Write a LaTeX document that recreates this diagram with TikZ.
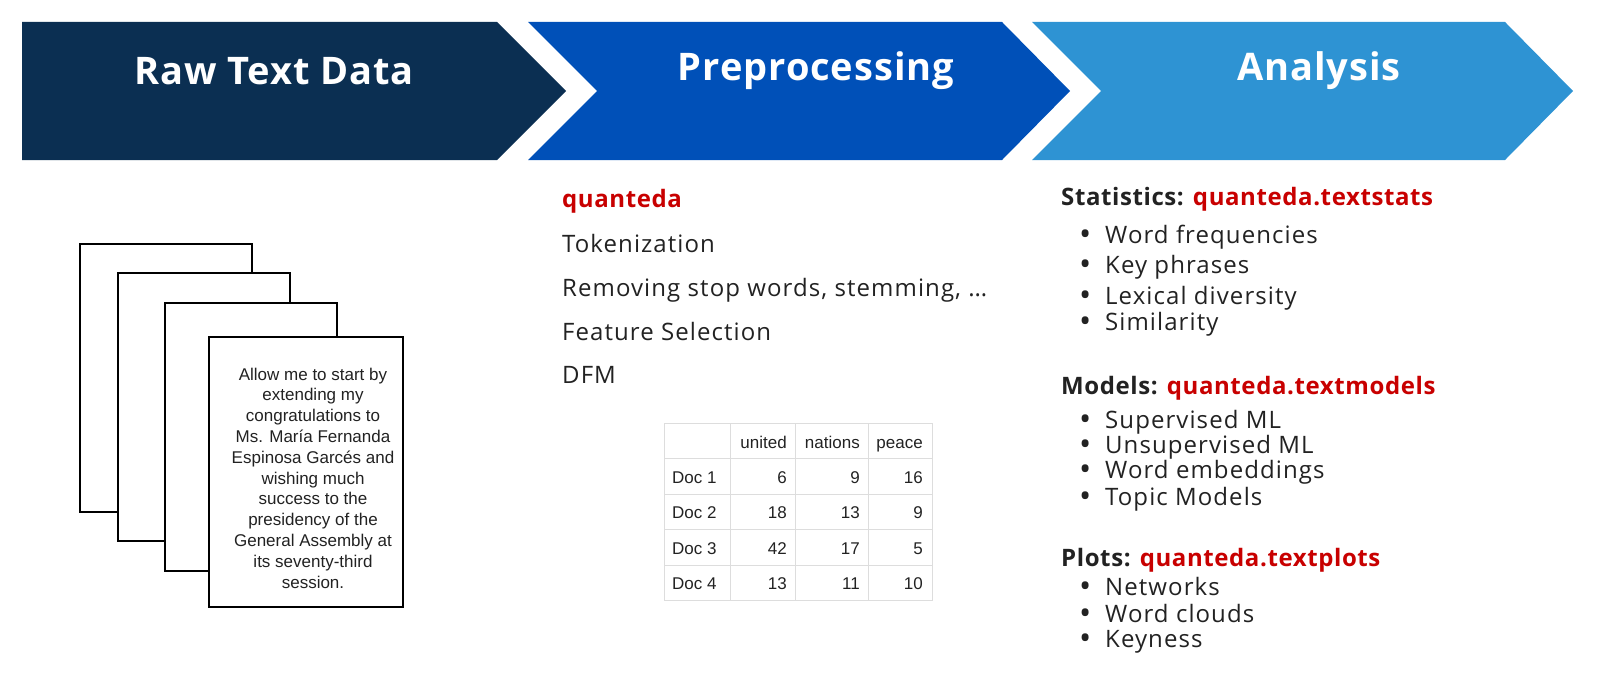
\documentclass[tikz,border=0pt]{standalone}
\usepackage{fontspec}
\setmainfont{Open Sans}
\newfontfamily\bodyf[LetterSpace=4.5]{Open Sans}
\newfontfamily\headf[LetterSpace=2.5]{Open Sans}
\newfontfamily\titlef[LetterSpace=2.5]{Open Sans}
\newfontfamily\arialf{Liberation Sans}
\definecolor{cnavy}{RGB}{11,47,82}
\definecolor{cblue}{RGB}{0,80,184}
\definecolor{csky}{RGB}{46,147,211}
\definecolor{qred}{RGB}{200,0,0}
\definecolor{txt}{RGB}{34,34,34}
\definecolor{gridc}{RGB}{221,221,221}
\newcommand{\bul}{\makebox[26pt][l]{\raisebox{-2.5pt}{\scalebox{1.35}{•}}}}
\begin{document}
\begin{tikzpicture}[x=1pt,y=-1pt,
 title/.style={text=white,font=\titlef\fontsize{38}{44}\selectfont\bfseries,inner sep=0pt},
 body/.style={text=txt,font=\bodyf\fontsize{24}{28}\selectfont,inner sep=0pt,anchor=base west},
 head/.style={text=txt,font=\headf\fontsize{24}{28}\selectfont\bfseries,inner sep=0pt,anchor=base west},
 item/.style={text=txt,font=\bodyf\fontsize{24}{28}\selectfont,inner sep=0pt,anchor=base west,text height=16pt,text depth=4pt},
 page/.style={draw=black,fill=white,line width=2pt,inner sep=0pt},
 cell/.style={font=\arialf\fontsize{17}{20}\selectfont,text=txt,inner sep=0pt},
 gridline/.style={draw=gridc,line width=1pt}]
\useasboundingbox (0,0) rectangle (1600,685);
% chevrons
\fill[cnavy] (22,22) -- (497,22) -- (566,91) -- (497,160) -- (22,160) -- cycle;
\fill[cblue] (528,22) -- (1002,22) -- (1070,91) -- (1002,160) -- (528,160) -- (597,91) -- cycle;
\fill[csky] (1032,22) -- (1505,22) -- (1573,91) -- (1505,160) -- (1032,160) -- (1101,91) -- cycle;
\node[title] (t1) at (274,71) {Raw Text Data};
\node[title] (t2) at (816,71) {Preprocessing};
\node[title] (t3) at (1319,71) {Analysis};
% pages
\node[page,minimum width=172pt,minimum height=268pt] (p1) at (166,378) {};
\node[page,minimum width=172pt,minimum height=268pt] (p2) at (204,407) {};
\node[page,minimum width=172pt,minimum height=268pt] (p3) at (250.5,437) {};
\node[page,minimum width=194pt,minimum height=270pt] (p4) at (306,472) {};
\node[font=\arialf\fontsize{17}{20.8}\selectfont,align=center,text=txt,inner sep=0pt] (doc) at (313,478)
 {Allow me to start by\\extending my\\congratulations to\\Ms. María Fernanda\\Espinosa Garcés and\\wishing much\\success to the\\presidency of the\\General Assembly at\\its seventy-third\\session.};
% middle column
\node[head,text=qred] (q) at (562,207) {quanteda};
\node[body] (s1) at (562,252) {Tokenization};
\node[body] (s2) at (562,296) {Removing stop words, stemming, …};
\node[body] (s3) at (562,340) {Feature Selection};
\node[body] (s4) at (562,383) {DFM};
% table
\foreach \x in {664,730,795,868,932} \draw[gridline] (\x,423) -- (\x,600.5);
\foreach \y in {423,458.5,494,529.5,565,600.5} \draw[gridline] (664,\y) -- (932,\y);
\node[cell,anchor=base east] (h1) at (787,448) {united};
\node[cell,anchor=base east] (h2) at (860,448) {nations};
\node[cell,anchor=base east] (h3) at (923,448) {peace};
\foreach \r/\yy/\a/\b/\c in {1/483/6/9/16, 2/518/18/13/9, 3/554/42/17/5, 4/589/13/11/10}{
 \node[cell,anchor=base west] (d\r) at (672,\yy) {Doc \r};
 \node[cell,anchor=base east] (u\r) at (787,\yy) {\a};
 \node[cell,anchor=base east] (n\r) at (860,\yy) {\b};
 \node[cell,anchor=base east] (e\r) at (923,\yy) {\c};
}
% right column
\node[head] (hs) at (1061,205) {Statistics: \textcolor{qred}{quanteda.textstats}};
\node[item] (a1) at (1079,243) {\bul Word frequencies};
\node[item] (a2) at (1079,273) {\bul Key phrases};
\node[item] (a3) at (1079,304) {\bul Lexical diversity};
\node[item] (a4) at (1079,330) {\bul Similarity};
\node[head] (hm) at (1061,394) {Models: \textcolor{qred}{quanteda.textmodels}};
\node[item] (b1) at (1079,428) {\bul Supervised ML};
\node[item] (b2) at (1079,453) {\bul Unsupervised ML};
\node[item] (b3) at (1079,478) {\bul Word embeddings};
\node[item] (b4) at (1079,505) {\bul Topic Models};
\node[head] (hp) at (1061,566) {Plots: \textcolor{qred}{quanteda.textplots}};
\node[item] (c1) at (1079,595) {\bul Networks};
\node[item] (c2) at (1079,622) {\bul Word clouds};
\node[item] (c3) at (1079,647) {\bul Keyness};
\end{tikzpicture}
\end{document}
